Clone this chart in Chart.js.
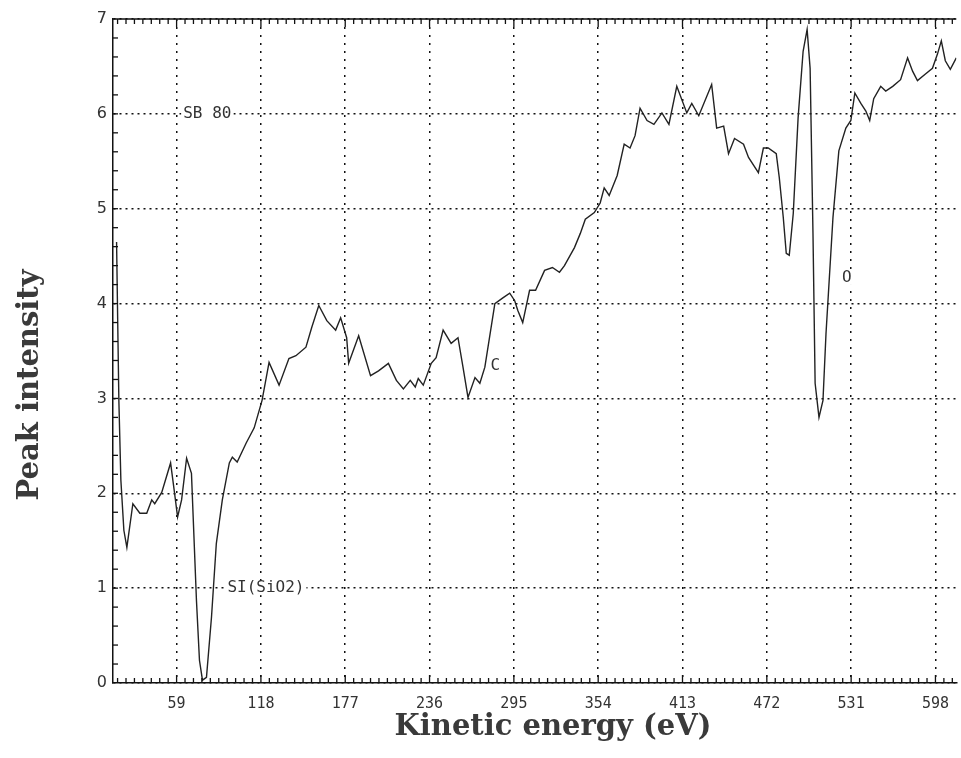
<!DOCTYPE html>
<html>
<head>
<meta charset="utf-8">
<script src="https://cdn.jsdelivr.net/npm/chart.js@4.4.1/dist/chart.umd.min.js"></script>
<style>
  html, body { margin: 0; padding: 0; background: #fff; }
  canvas { display: block; }
</style>
</head>
<body>
<canvas id="myChart" width="961" height="758"></canvas>
<script>
const energy = [
  17.0, 17.8, 18.6, 20.0, 22.1, 24.2, 28.4, 33.3, 38.1, 41.6, 43.7, 48.6, 54.8, 57.6, 59.7,
  62.5, 66.0, 69.4, 72.9, 75.0, 77.1, 79.9, 83.4, 86.8, 91.0, 95.9, 98.0, 101.4, 107.7, 113.3,
  118.8, 123.7, 130.7, 137.6, 142.5, 149.5, 153.6, 158.5, 164.1, 170.3, 173.8, 178.0, 179.4, 186.4,
  194.7, 200.3, 207.2, 212.8, 217.7, 222.5, 226.0, 228.1, 231.6, 237.2, 240.6, 245.5, 251.1, 255.9,
  259.4, 262.9, 267.8, 271.2, 274.7, 281.7, 287.3, 292.1, 295.6, 297.7, 301.2, 306.0, 310.2, 316.5,
  322.0, 326.9, 330.4, 337.4, 341.5, 345.0, 351.3, 355.4, 358.2, 361.7, 367.3, 372.2, 376.3, 379.8,
  383.3, 388.2, 393.0, 398.6, 403.5, 409.0, 416.0, 419.5, 424.4, 433.4, 436.9, 441.8, 445.2, 449.4,
  455.7, 459.2, 466.1, 469.6, 473.0, 478.6, 480.7, 483.5, 485.6, 487.7, 490.5, 493.9, 497.4, 500.2,
  502.3, 504.3, 505.8, 508.5, 511.3, 513.4, 518.3, 522.4, 527.3, 530.8, 533.6, 537.8, 541.3, 544.0,
  546.8, 551.7, 555.2, 560.1, 565.6, 570.5, 574.0, 577.4, 583.0, 587.9, 591.4, 594.1, 596.9, 600.4, 604.6
];
const intensity = [
  4.65, 3.80, 2.98, 2.14, 1.61, 1.43, 1.89, 1.79, 1.79, 1.93, 1.89, 2.01, 2.32, 2.00, 1.75,
  1.93, 2.37, 2.21, 0.87, 0.24, 0.03, 0.06, 0.69, 1.47, 1.93, 2.32, 2.38, 2.33, 2.53, 2.69,
  2.98, 3.38, 3.14, 3.42, 3.45, 3.54, 3.75, 3.98, 3.82, 3.72, 3.85, 3.64, 3.37, 3.66,
  3.24, 3.29, 3.37, 3.19, 3.10, 3.19, 3.12, 3.21, 3.14, 3.37, 3.43, 3.72, 3.58, 3.64,
  3.33, 3.01, 3.22, 3.16, 3.33, 4.00, 4.06, 4.11, 4.03, 3.93, 3.80, 4.14, 4.14, 4.35,
  4.38, 4.33, 4.40, 4.59, 4.74, 4.89, 4.96, 5.06, 5.22, 5.14, 5.35, 5.68, 5.64, 5.77,
  6.06, 5.93, 5.89, 6.01, 5.89, 6.29, 6.01, 6.11, 5.98, 6.31, 5.85, 5.87, 5.58, 5.74,
  5.68, 5.54, 5.38, 5.64, 5.64, 5.58, 5.33, 4.91, 4.53, 4.51, 4.95, 5.96, 6.66, 6.89,
  6.48, 4.74, 3.16, 2.80, 2.98, 3.68, 4.91, 5.61, 5.85, 5.93, 6.22, 6.11, 6.03, 5.93,
  6.16, 6.29, 6.24, 6.29, 6.36, 6.59, 6.45, 6.35, 6.42, 6.48, 6.63, 6.77, 6.56, 6.47, 6.59
];

// Marcas de los ejes
const xTicks = [59, 118, 177, 236, 295, 354, 413, 472, 531, 590];
const xTickLabels = ["59", "118", "177", "236", "295", "354", "413", "472", "531", "598"];
const yTicks = [0, 1, 2, 3, 4, 5, 6, 7];
const yTickLabels = ["0", "1", "2", "3", "4", "5", "6", "7"];

// Etiquetas de picos
const peakNames = ["SB 80", "SI(SiO2)", "C", "O"];
const peakEnergy = [80.5, 121.5, 282, 528];
const peakLevel = [6.0, 1.0, 3.34, 4.27];

const points = energy.map((e, i) => ({x: e, y: intensity[i]}));

// Dibuja titulos, marcas menores y etiquetas
const extras = {
    id: 'extras',
    afterDraw(chart) {
        const ctx = chart.ctx;
        const xs = chart.scales.x;
        const ys = chart.scales.y;
        const a = chart.chartArea;
        ctx.save();
        ctx.strokeStyle = '#111';
        ctx.lineWidth = 1.3;

        // borde superior
        ctx.beginPath();
        ctx.moveTo(a.left, a.top);
        ctx.lineTo(a.right, a.top);
        ctx.stroke();

        // marcas menores en x
        for (let k = 3; k * 5.9 < xs.max; k++) {
            const px = xs.getPixelForValue(k * 5.9);
            if (px < a.left + 2) continue;
            const len = (k % 10 === 0) ? 8 : 5;
            ctx.beginPath();
            ctx.moveTo(px, a.bottom);
            ctx.lineTo(px, a.bottom - len);
            ctx.moveTo(px, a.top);
            ctx.lineTo(px, a.top + len);
            ctx.stroke();
        }
        // marcas menores en y
        for (let k = 1; k < 35; k++) {
            const py = ys.getPixelForValue(k * 0.2);
            ctx.beginPath();
            ctx.moveTo(a.left, py);
            ctx.lineTo(a.left + 5, py);
            ctx.stroke();
        }

        // etiquetas de picos
        ctx.font = '16px "DejaVu Sans Mono", monospace';
        ctx.textAlign = 'center';
        ctx.textBaseline = 'middle';
        peakNames.forEach((name, i) => {
            const px = xs.getPixelForValue(peakEnergy[i]);
            const py = ys.getPixelForValue(peakLevel[i]);
            const w = ctx.measureText(name).width;
            ctx.fillStyle = '#fff';
            ctx.fillRect(px - w / 2 - 2, py - 7, w + 4, 14);
            ctx.fillStyle = '#333';
            ctx.fillText(name, px, py);
        });

        // titulos de ejes
        ctx.fillStyle = '#3a3a3a';
        ctx.font = 'bold 29px "DejaVu Serif", serif';
        ctx.fillText('Kinetic energy (eV)', 553, 727);
        ctx.translate(30, 385);
        ctx.rotate(-Math.PI / 2);
        ctx.fillText('Peak intensity', 0, 0);
        ctx.restore();
    }
};

let ctx = document.getElementById('myChart');
let spectrumChart = new Chart(ctx, {
    type: 'line',
    data: {
        datasets: [{
            data: points,
            borderColor: '#222',
            borderWidth: 1.4,
            pointRadius: 0,
            tension: 0,
            fill: false
        }]
    },
    options: {
        responsive: false,
        animation: false,
        layout: { padding: { top: 19, right: 0, left: 0, bottom: 0 } },
        plugins: {
            legend: { display: false },
            tooltip: { enabled: false }
        },
        scales: {
            x: {
                type: 'linear',
                min: 14.5,
                max: 604.6,
                afterBuildTicks: (scale) => { scale.ticks = xTicks.map(v => ({value: v})); },
                afterFit: (scale) => { scale.height = 75; },
                ticks: {
                    padding: 12,
                    color: '#333',
                    font: { family: '"DejaVu Sans Mono", monospace', size: 15 },
                    callback: (v) => xTickLabels[xTicks.indexOf(v)],
                    maxRotation: 0,
                    autoSkip: false
                },
                grid: { color: '#111', lineWidth: 1.5, drawTicks: false },
                border: { color: '#111', width: 1.5, dash: [2, 6] }
            },
            y: {
                min: 0,
                max: 7,
                afterBuildTicks: (scale) => { scale.ticks = yTicks.map(v => ({value: v})); },
                afterFit: (scale) => { scale.width = 113; },
                ticks: {
                    padding: 6,
                    color: '#333',
                    font: { family: '"DejaVu Sans", sans-serif', size: 16 },
                    callback: (v) => yTickLabels[yTicks.indexOf(v)]
                },
                grid: { color: '#111', lineWidth: 1.5, drawTicks: false },
                border: { color: '#111', width: 1.5, dash: [2, 4] }
            }
        }
    },
    plugins: [extras]
});
</script>
</body>
</html>
